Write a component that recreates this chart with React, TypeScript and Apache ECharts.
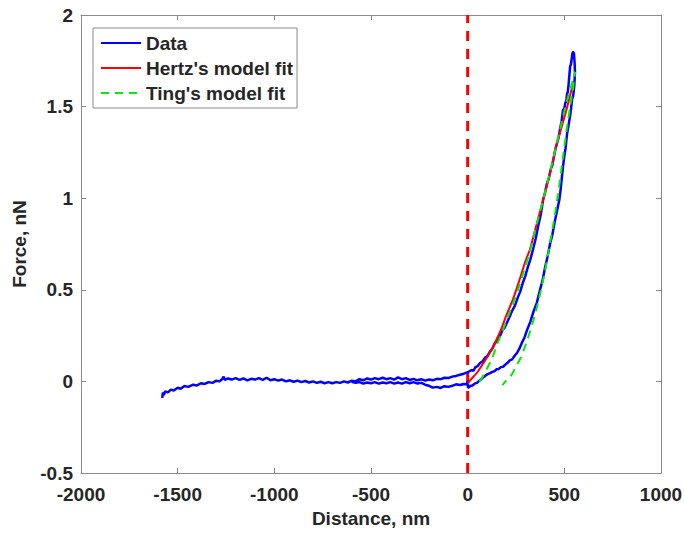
import React, { useEffect, useRef } from "react";
import * as echarts from "echarts";

// Axis settings
const xMin = -2000;
const xMax = 1000;
const xStep = 500;
const yMin = -0.5;
const yMax = 2;
const yStep = 0.5;

const seriesNames = ["Data", "Hertz's model fit", "Ting's model fit"];

// Measured force curve (approach then retract), [distance nm, force nN]
const dataApproach: [number, number][] = [
  [-1580, -0.09], [-1576, -0.06], [-1572, -0.075], [-1565, -0.055], [-1550, -0.06], [-1535, -0.045],
  [-1520, -0.05], [-1500, -0.035], [-1485, -0.04], [-1465, -0.025], [-1445, -0.03], [-1420, -0.018],
  [-1400, -0.022], [-1380, -0.01], [-1360, -0.014], [-1340, -0.004], [-1320, -0.008], [-1300, 0.004],
  [-1285, 0.0], [-1270, 0.012], [-1262, 0.026], [-1255, 0.008], [-1240, 0.016], [-1220, 0.01],
  [-1200, 0.018], [-1180, 0.008], [-1160, 0.016], [-1140, 0.006], [-1120, 0.014], [-1100, 0.01],
  [-1080, 0.018], [-1060, 0.008], [-1040, 0.02], [-1020, 0.006], [-1000, 0.012], [-980, 0.004],
  [-960, 0.01], [-940, 0.0], [-920, 0.006], [-900, -0.002], [-880, 0.004], [-860, -0.004],
  [-840, 0.002], [-820, -0.006], [-800, 0.0], [-780, -0.008], [-760, -0.002], [-740, -0.01],
  [-720, -0.004], [-700, -0.01], [-680, -0.004], [-660, -0.008], [-640, 0.0], [-620, -0.006],
  [-600, 0.004], [-580, 0.0], [-560, 0.012], [-540, 0.006], [-520, 0.016], [-500, 0.01],
  [-480, 0.018], [-460, 0.012], [-440, 0.02], [-420, 0.012], [-400, 0.018], [-380, 0.01],
  [-360, 0.022], [-340, 0.012], [-320, 0.018], [-300, 0.008], [-280, 0.014], [-260, 0.006],
  [-240, 0.012], [-220, 0.004], [-200, 0.01], [-180, 0.006], [-160, 0.014], [-140, 0.012],
  [-120, 0.02], [-100, 0.018], [-80, 0.026], [-60, 0.03], [-40, 0.036], [-20, 0.042],
  [0, 0.05], [20, 0.062], [30, 0.058], [40, 0.078], [52, 0.084], [64, 0.1], [78, 0.11], [90, 0.13],
  [102, 0.138], [115, 0.162], [128, 0.18], [141, 0.21], [150, 0.215], [160, 0.24], [170, 0.255],
  [180, 0.28], [192, 0.295], [203, 0.32], [216, 0.35], [230, 0.385], [245, 0.415], [260, 0.46],
  [272, 0.49], [286, 0.54], [298, 0.575], [310, 0.62], [324, 0.665], [338, 0.72], [352, 0.78],
  [365, 0.85], [378, 0.91], [390, 0.99], [400, 1.03], [410, 1.08], [420, 1.11], [430, 1.16],
  [438, 1.18], [445, 1.22], [454, 1.27], [462, 1.3], [470, 1.33], [478, 1.38], [486, 1.42],
  [493, 1.48], [500, 1.49], [505, 1.52], [510, 1.53], [514, 1.57], [518, 1.58], [522, 1.62],
  [526, 1.67], [530, 1.72], [534, 1.73], [538, 1.76], [542, 1.79], [545, 1.8], [550, 1.79],
  [553, 1.74], [555, 1.69],
];

const dataRetract: [number, number][] = [
  [552, 1.62], [546, 1.56], [540, 1.54], [535, 1.49], [530, 1.45], [522, 1.4], [514, 1.35],
  [506, 1.27], [500, 1.23], [494, 1.18], [488, 1.12], [481, 1.05], [474, 0.99], [462, 0.93],
  [450, 0.87], [438, 0.8], [426, 0.75], [413, 0.68], [400, 0.62], [387, 0.55], [374, 0.5],
  [358, 0.43], [340, 0.38], [324, 0.325], [307, 0.28], [294, 0.24], [280, 0.21], [268, 0.18],
  [255, 0.155], [243, 0.14], [230, 0.12], [218, 0.115], [205, 0.1], [195, 0.092], [183, 0.08],
  [172, 0.078], [160, 0.068], [150, 0.066], [138, 0.055], [127, 0.052], [116, 0.045], [104, 0.04],
  [90, 0.03], [80, 0.022], [70, 0.012], [60, 0.004], [48, -0.008], [36, -0.012], [25, -0.022],
  [16, -0.024], [8, -0.03], [2, -0.036], [0, 0.004], [-4, -0.016], [-20, -0.014], [-40, -0.02],
  [-60, -0.016], [-80, -0.024], [-100, -0.03], [-120, -0.026], [-140, -0.036], [-160, -0.03],
  [-180, -0.034], [-200, -0.024], [-220, -0.018], [-240, -0.008], [-260, -0.012], [-280, -0.004],
  [-300, -0.01], [-320, -0.004], [-340, -0.012], [-360, -0.006], [-380, -0.012], [-400, -0.004],
  [-420, -0.01], [-440, -0.006], [-460, -0.012], [-480, -0.004], [-500, -0.01], [-520, -0.006],
  [-540, -0.012], [-560, -0.004], [-580, -0.008], [-600, -0.002],
];

// Hertz's model fit
const hertzFit: [number, number][] = [
  [0, -0.01], [25, 0.02], [50, 0.05], [75, 0.09], [100, 0.13], [125, 0.175], [150, 0.23],
  [175, 0.29], [200, 0.36], [235, 0.45], [270, 0.56], [300, 0.66], [322, 0.72], [350, 0.83],
  [390, 0.99], [420, 1.11], [462, 1.3], [500, 1.44], [525, 1.54], [548, 1.64],
];

// Ting's model fit (approach and retract branches)
const tingFit: [number, number][] = [
  [60, 0.0], [75, 0.02], [95, 0.06], [115, 0.1], [135, 0.15], [151, 0.2], [175, 0.26],
  [200, 0.33], [230, 0.41], [260, 0.5], [290, 0.6], [320, 0.7], [350, 0.83], [390, 0.99],
  [430, 1.16], [470, 1.34], [510, 1.52], [540, 1.63], [556, 1.69],
  [545, 1.6], [530, 1.5], [510, 1.36], [490, 1.2], [470, 1.04], [450, 0.9], [425, 0.75],
  [400, 0.6], [375, 0.48], [350, 0.37], [325, 0.28], [300, 0.2], [275, 0.13], [250, 0.08],
  [230, 0.04], [210, 0.015], [195, 0.0], [180, -0.02],
];

const verticalLine: [number, number][] = [
  [0, -0.5],
  [0, 2],
];

const FONT = "'Liberation Sans', Arial, Helvetica, sans-serif";
const AXIS_COLOR = "#8a8a8a";
const TEXT_COLOR = "#262626";

export default function App() {
  const ref = useRef<HTMLDivElement>(null);

  useEffect(() => {
    if (!ref.current) return;
    const chart = echarts.init(ref.current, undefined, { renderer: "svg" });

    const axisBase = {
      type: "value" as const,
      axisLine: { show: true, onZero: false, lineStyle: { color: AXIS_COLOR, width: 1 } },
      axisTick: { show: true, inside: true, length: 5, lineStyle: { color: AXIS_COLOR } },
      splitLine: { show: false },
    };

    const option: any = {
      animation: false,
      backgroundColor: "#ffffff",
      grid: { left: 81, right: 23, top: 15, bottom: 62, containLabel: false, outerBoundsMode: "none" },
      legend: {
        data: seriesNames,
        orient: "vertical",
        left: 93,
        top: 28,
        padding: [5, 4, 5, 7],
        itemWidth: 40,
        itemHeight: 14,
        itemGap: 5,
        backgroundColor: "#ffffff",
        borderColor: AXIS_COLOR,
        borderWidth: 1,
        itemStyle: { opacity: 0 },
        textStyle: { fontFamily: FONT, fontWeight: "bold", fontSize: 19, color: TEXT_COLOR, lineHeight: 20 },
      },
      xAxis: [
        {
          ...axisBase,
          min: xMin,
          max: xMax,
          interval: xStep,
          position: "bottom",
          name: "Distance, nm",
          nameLocation: "middle",
          nameGap: 36,
          nameTextStyle: { fontFamily: FONT, fontWeight: "bold", fontSize: 19, color: TEXT_COLOR },
          axisLabel: {
            fontFamily: FONT,
            fontWeight: "bold",
            fontSize: 19,
            color: TEXT_COLOR,
            margin: 12,
            formatter: (v: number) => String(v),
          },
        },
        {
          ...axisBase,
          min: xMin,
          max: xMax,
          interval: xStep,
          position: "top",
          axisLabel: { show: false },
        },
      ],
      yAxis: [
        {
          ...axisBase,
          min: yMin,
          max: yMax,
          interval: yStep,
          position: "left",
          name: "Force, nN",
          nameLocation: "middle",
          nameGap: 52,
          nameTextStyle: { fontFamily: FONT, fontWeight: "bold", fontSize: 19, color: TEXT_COLOR },
          axisLabel: {
            fontFamily: FONT,
            fontWeight: "bold",
            fontSize: 19,
            color: TEXT_COLOR,
            margin: 8,
            formatter: (v: number) => String(v),
          },
        },
        {
          ...axisBase,
          min: yMin,
          max: yMax,
          interval: yStep,
          position: "right",
          axisLabel: { show: false },
        },
      ],
      series: [
        {
          name: "zero",
          type: "line",
          data: verticalLine,
          showSymbol: false,
          symbol: "none",
          silent: true,
          lineStyle: { color: "#ff0000", width: 3, type: [10, 8] },
          z: 1,
        },
        {
          name: "Data",
          type: "line",
          data: [...dataApproach, ...dataRetract],
          showSymbol: false,
          symbol: "none",
          color: "#0000ff",
          lineStyle: { color: "#0000ff", width: 2.5 },
          z: 2,
        },
        {
          name: "Hertz's model fit",
          type: "line",
          data: hertzFit,
          showSymbol: false,
          symbol: "none",
          smooth: 0.3,
          color: "#ff0000",
          lineStyle: { color: "#ff0000", width: 2 },
          z: 3,
        },
        {
          name: "Ting's model fit",
          type: "line",
          data: tingFit,
          showSymbol: false,
          symbol: "none",
          color: "#00ff00",
          lineStyle: { color: "#00ee00", width: 2, type: [8, 6] },
          z: 4,
        },
      ],
    };

    chart.setOption(option);
    return () => chart.dispose();
  }, []);

  return (
    <div
      ref={ref}
      style={{ position: "fixed", left: 0, top: 0, width: 684, height: 535, background: "#fff" }}
    />
  );
}
